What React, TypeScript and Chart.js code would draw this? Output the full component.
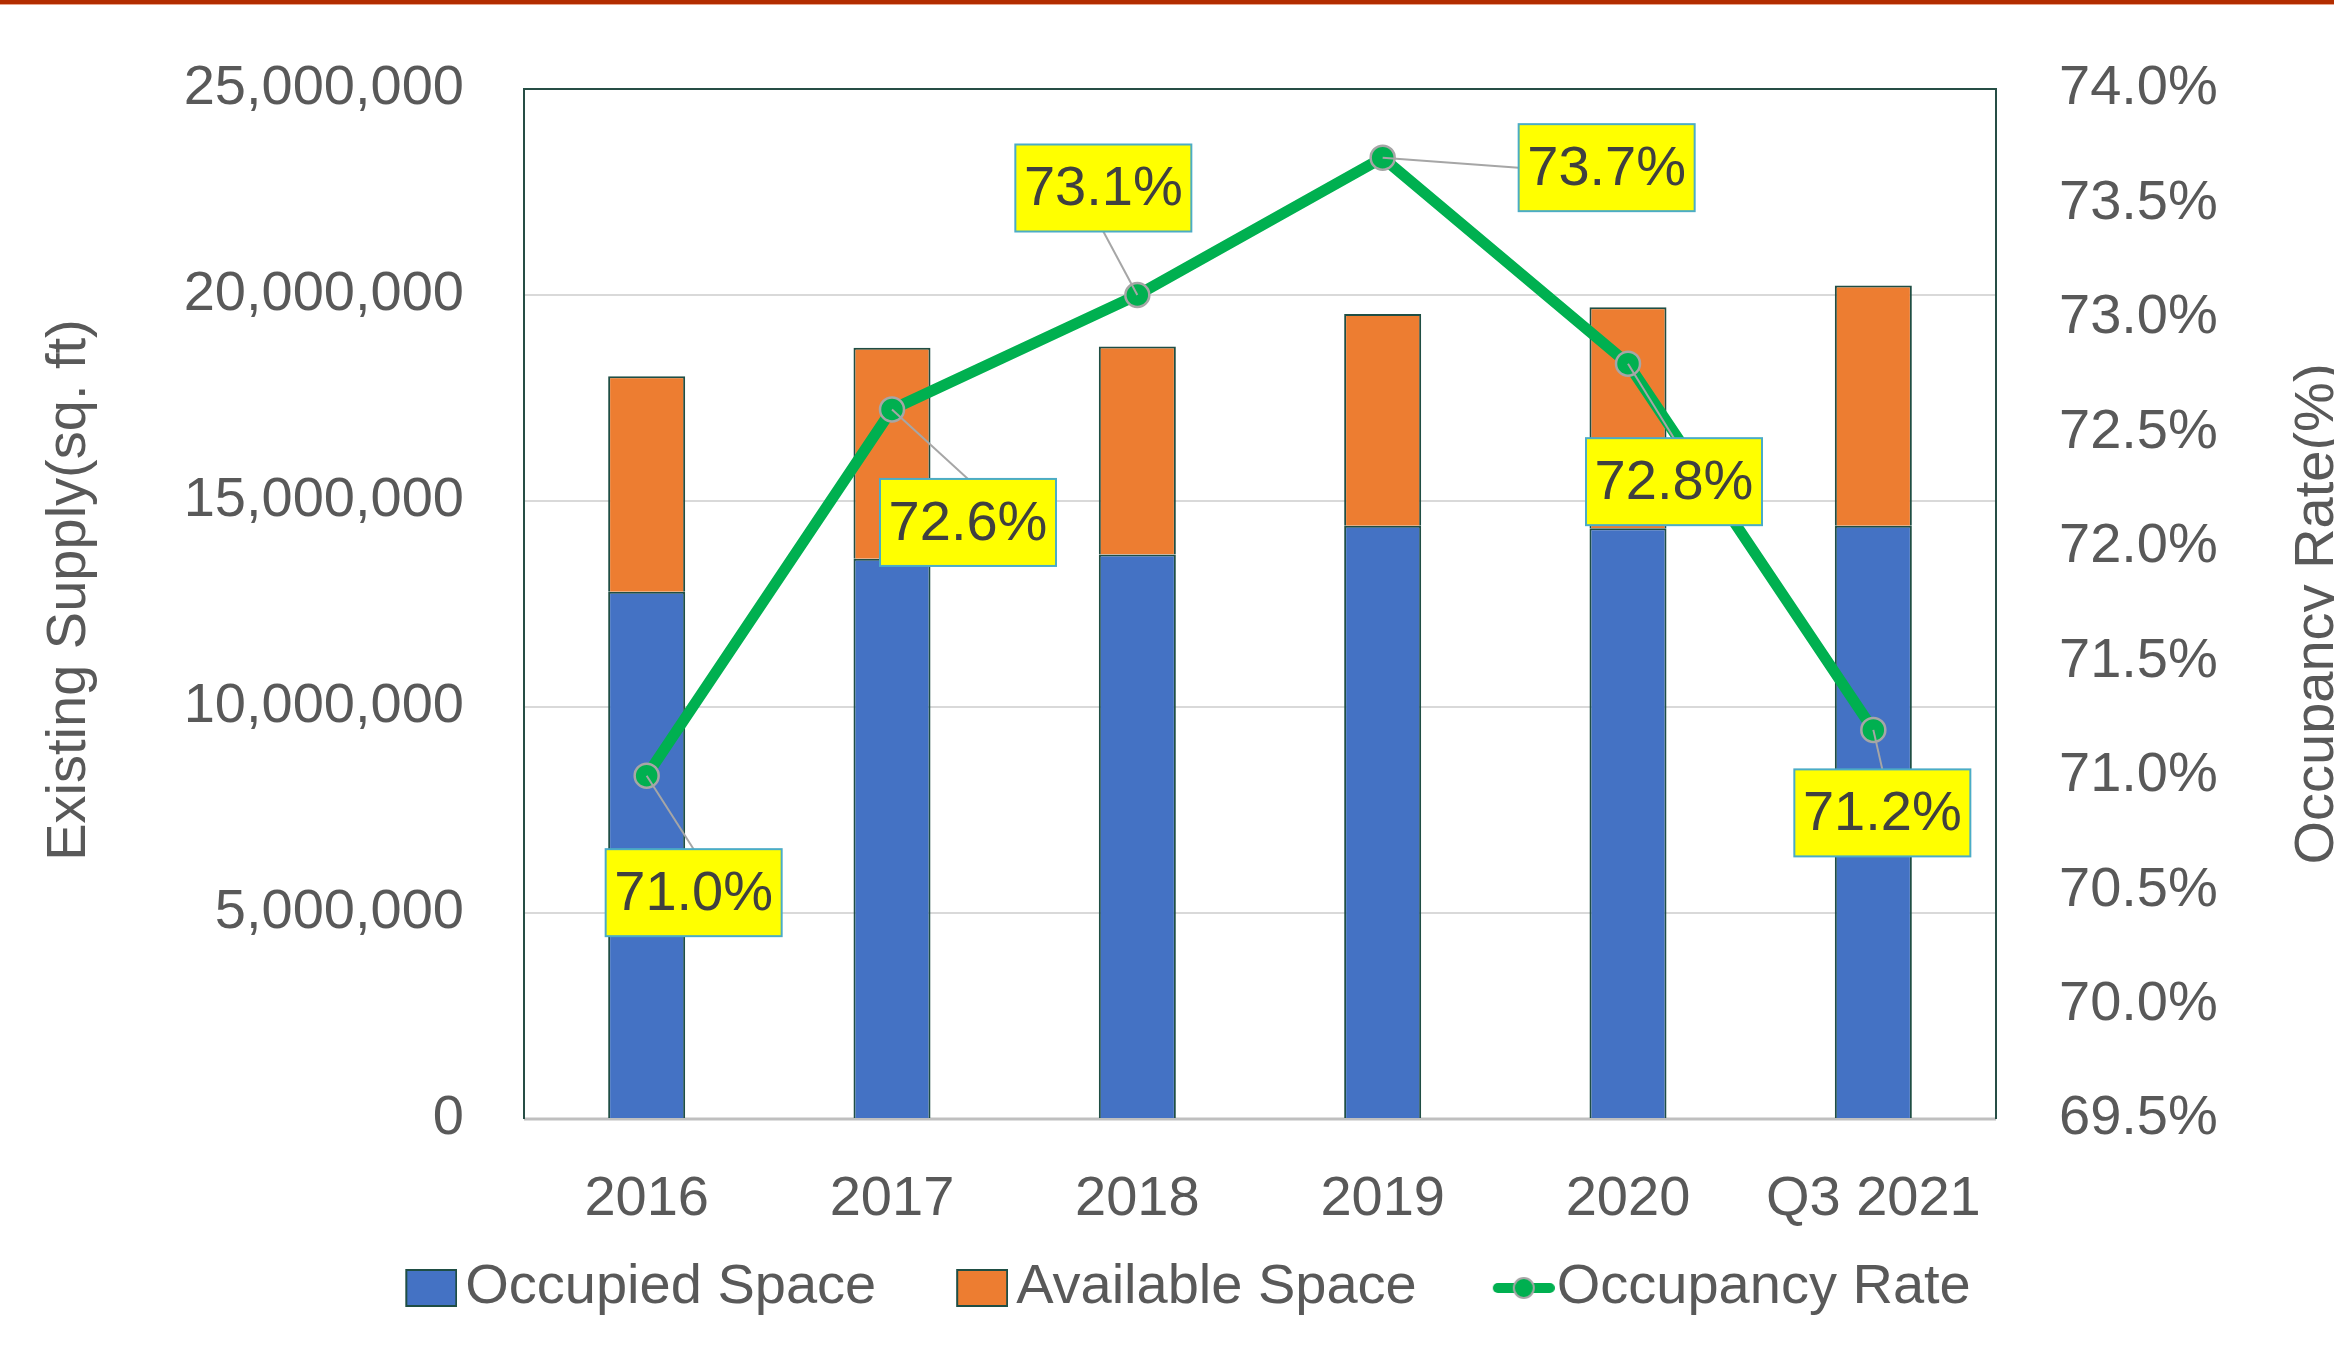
import React, { useEffect, useRef } from 'react';
import { Chart, registerables } from 'chart.js';

Chart.register(...registerables);

// ---------------- data ----------------
const categories = ['2016', '2017', '2018', '2019', '2020', 'Q3 2021'];
const occupiedSpace = [12800000, 13600000, 13700000, 14400000, 14340000, 14400000];
const availableSpace = [5230000, 5120000, 5050000, 5140000, 5360000, 5830000];
const occupancyRate = [71.0, 72.6, 73.1, 73.7, 72.8, 71.2];
const leftTicks = { min: 0, max: 25000000, step: 5000000 };
const rightTicks = { min: 69.5, max: 74.0, step: 0.5 };
const seriesNames = ['Occupied Space', 'Available Space', 'Occupancy Rate'];
const axisTitles = ['Existing Supply(sq. ft)', 'Occupancy Rate(%)'];

// label box offsets (px) relative to each point (layout only)
const labelOffsetX = [47, 76, -34, 224, 46, 9];
const labelOffsetY = [117, 113, -107, 10, 118, 83];

// ---------------- styles ----------------
const W = 2334;
const H = 1346;
const FONT = "'Liberation Sans', Arial, sans-serif";
const FS = 56;
const TEXT = '#595959';
const BLUE = '#4472C4';
const ORANGE = '#ED7D31';
const GREEN = '#00B050';
const BAR_BORDER = '#1F4E44';
const PLOT = { left: 524, right: 1996, top: 89, bottom: 1119 };
const PAD_RIGHT = 18;

function makeBoxIcon(fill: string, border: string): HTMLCanvasElement {
  const L = 80, w = 52, h = 38;
  const c = document.createElement('canvas');
  c.width = L + w;
  c.height = 40;
  const g = c.getContext('2d')!;
  g.fillStyle = fill;
  g.fillRect(L, 1, w, h);
  g.strokeStyle = border;
  g.lineWidth = 2;
  g.strokeRect(L + 1, 2, w - 2, h - 2);
  return c;
}

function makeLineIcon(): HTMLCanvasElement {
  const L = 82, w = 62;
  const c = document.createElement('canvas');
  c.width = L + w;
  c.height = 40;
  const g = c.getContext('2d')!;
  g.strokeStyle = GREEN;
  g.lineWidth = 10;
  g.lineCap = 'round';
  g.beginPath();
  g.moveTo(L + 5, 20);
  g.lineTo(L + w - 5, 20);
  g.stroke();
  g.beginPath();
  g.arc(L + w / 2, 20, 10, 0, Math.PI * 2);
  g.fillStyle = GREEN;
  g.fill();
  g.strokeStyle = '#A6A6A6';
  g.lineWidth = 2;
  g.stroke();
  return c;
}

const framePlugin = {
  id: 'plotFrame',
  beforeDatasetsDraw(chart: any) {
    const { ctx, chartArea: a } = chart;
    ctx.save();
    ctx.strokeStyle = '#BFBFBF';
    ctx.lineWidth = 3;
    ctx.beginPath();
    ctx.moveTo(a.left, a.bottom);
    ctx.lineTo(a.right, a.bottom);
    ctx.stroke();
    ctx.strokeStyle = '#264E45';
    ctx.lineWidth = 2;
    ctx.beginPath();
    ctx.moveTo(a.left, a.bottom);
    ctx.lineTo(a.left, a.top);
    ctx.lineTo(a.right, a.top);
    ctx.lineTo(a.right, a.bottom);
    ctx.stroke();
    ctx.restore();
  },
};

const titlesPlugin = {
  id: 'axisTitles',
  afterDraw(chart: any) {
    const { ctx } = chart;
    ctx.save();
    ctx.fillStyle = TEXT;
    ctx.font = `${FS}px ${FONT}`;
    ctx.textAlign = 'center';
    ctx.textBaseline = 'alphabetic';
    ctx.save();
    ctx.translate(85, 590);
    ctx.rotate(-Math.PI / 2);
    ctx.fillText(axisTitles[0], 0, 0);
    ctx.restore();
    ctx.save();
    ctx.translate(2333, 614);
    ctx.rotate(-Math.PI / 2);
    ctx.fillText(axisTitles[1], 0, 0);
    ctx.restore();
    ctx.restore();
  },
};

const dataLabelPlugin = {
  id: 'rateLabels',
  afterDatasetsDraw(chart: any) {
    const { ctx } = chart;
    const dsIndex = chart.data.datasets.findIndex((d: any) => d.type === 'line');
    const meta = chart.getDatasetMeta(dsIndex);
    const bw = 176, bh = 87;
    ctx.save();
    meta.data.forEach((pt: any, i: number) => {
      const px = pt.x, py = pt.y;
      const cx = px + labelOffsetX[i];
      const cy = py + labelOffsetY[i];
      const gapX = Math.abs(cx - px) - bw / 2;
      const gapY = Math.abs(cy - py) - bh / 2;
      let ex = cx, ey = cy;
      if (gapX > gapY) {
        ex = cx > px ? cx - bw / 2 : cx + bw / 2;
      } else {
        ey = cy > py ? cy - bh / 2 : cy + bh / 2;
      }
      ctx.strokeStyle = '#A6A6A6';
      ctx.lineWidth = 2;
      ctx.beginPath();
      ctx.moveTo(px, py);
      ctx.lineTo(ex, ey);
      ctx.stroke();
      ctx.fillStyle = '#FFFF00';
      ctx.fillRect(cx - bw / 2, cy - bh / 2, bw, bh);
      ctx.strokeStyle = '#4BACC6';
      ctx.lineWidth = 2;
      ctx.strokeRect(cx - bw / 2, cy - bh / 2, bw, bh);
      ctx.fillStyle = '#404040';
      ctx.font = `${FS}px ${FONT}`;
      ctx.textAlign = 'center';
      ctx.textBaseline = 'middle';
      ctx.fillText(occupancyRate[i].toFixed(1) + '%', cx, cy + 2);
    });
    ctx.restore();
  },
};

export default function App() {
  const ref = useRef<HTMLCanvasElement | null>(null);

  useEffect(() => {
    if (!ref.current) return;
    const occIcon = makeBoxIcon(BLUE, BAR_BORDER);
    const availIcon = makeBoxIcon(ORANGE, BAR_BORDER);
    const lineIcon = makeLineIcon();

    const chart = new Chart(ref.current, {
      type: 'bar',
      data: {
        labels: categories,
        datasets: [
          {
            type: 'line',
            label: seriesNames[2],
            data: occupancyRate,
            yAxisID: 'y1',
            borderColor: GREEN,
            backgroundColor: GREEN,
            borderWidth: 11,
            pointRadius: 12,
            pointBackgroundColor: GREEN,
            pointBorderColor: '#A6A6A6',
            pointBorderWidth: 2.5,
            tension: 0,
            order: 0,
          } as any,
          {
            type: 'bar',
            label: seriesNames[0],
            data: occupiedSpace,
            yAxisID: 'y',
            backgroundColor: BLUE,
            borderColor: BAR_BORDER,
            borderWidth: 2,
            stack: 'supply',
            barPercentage: 0.314,
            categoryPercentage: 1,
            order: 1,
          },
          {
            type: 'bar',
            label: seriesNames[1],
            data: availableSpace,
            yAxisID: 'y',
            backgroundColor: ORANGE,
            borderColor: BAR_BORDER,
            borderWidth: 2,
            stack: 'supply',
            barPercentage: 0.314,
            categoryPercentage: 1,
            order: 1,
          },
        ],
      },
      options: {
        responsive: false,
        devicePixelRatio: 1,
        animation: false,
        layout: { padding: { top: PLOT.top, bottom: 20, left: 0, right: PAD_RIGHT } },
        font: { family: FONT, size: FS },
        plugins: {
          tooltip: { enabled: false },
          legend: {
            position: 'bottom',
            labels: {
              usePointStyle: true,
              pointStyleWidth: 92,
              boxHeight: FS,
              padding: 20,
              color: TEXT,
              font: { family: FONT, size: FS },
              generateLabels: () => [
                { text: seriesNames[0], pointStyle: occIcon, fillStyle: BLUE, strokeStyle: BAR_BORDER, lineWidth: 0, hidden: false, datasetIndex: 1, fontColor: TEXT },
                { text: seriesNames[1], pointStyle: availIcon, fillStyle: ORANGE, strokeStyle: BAR_BORDER, lineWidth: 0, hidden: false, datasetIndex: 2, fontColor: TEXT },
                { text: seriesNames[2], pointStyle: lineIcon, fillStyle: GREEN, strokeStyle: GREEN, lineWidth: 0, hidden: false, datasetIndex: 0, fontColor: TEXT },
              ] as any,
            },
          },
        },
        scales: {
          x: {
            stacked: true,
            grid: { display: false, drawTicks: false },
            border: { display: false },
            ticks: {
              color: TEXT,
              font: { family: FONT, size: FS },
              padding: 47,
              maxRotation: 0,
              autoSkip: false,
            },
            afterFit: (s: any) => {
              s.height = 121;
            },
          },
          y: {
            stacked: true,
            position: 'left',
            min: leftTicks.min,
            max: leftTicks.max,
            grid: {
              color: '#D9D9D9',
              lineWidth: 2,
              drawTicks: true,
              tickLength: 60,
              tickColor: 'rgba(0,0,0,0)',
            },
            border: { display: false },
            ticks: {
              stepSize: leftTicks.step,
              color: TEXT,
              font: { family: FONT, size: FS },
              padding: 0,
              callback: (v: any) => Number(v).toLocaleString('en-US'),
            },
            afterFit: (s: any) => {
              s.width = PLOT.left;
            },
          },
          y1: {
            position: 'right',
            min: rightTicks.min,
            max: rightTicks.max,
            grid: {
              drawOnChartArea: false,
              drawTicks: true,
              tickLength: 63,
              tickColor: 'rgba(0,0,0,0)',
            },
            border: { display: false },
            ticks: {
              stepSize: rightTicks.step,
              color: TEXT,
              font: { family: FONT, size: FS },
              padding: 0,
              callback: (v: any) => Number(v).toFixed(1) + '%',
            },
            afterFit: (s: any) => {
              s.width = W - PAD_RIGHT - PLOT.right;
            },
          },
        },
      },
      plugins: [framePlugin, dataLabelPlugin, titlesPlugin],
    });
    return () => chart.destroy();
  }, []);

  return (
    <div style={{ position: 'fixed', left: 0, top: 0, width: W, height: H, background: '#ffffff' }}>
      <canvas ref={ref} width={W} height={H} style={{ display: 'block', width: W, height: H }} />
      <div style={{ position: 'absolute', left: 0, top: 0, width: W, height: 4, background: '#B32D00' }} />
      <div style={{ position: 'absolute', left: 0, top: 4, width: W, height: 1, background: '#E8A48C' }} />
    </div>
  );
}
